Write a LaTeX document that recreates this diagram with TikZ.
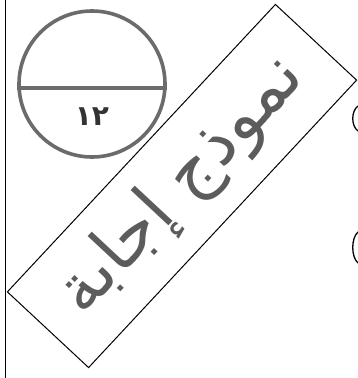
\documentclass[tikz,border=0pt]{standalone}
\usepackage{fontspec}
\newfontfamily\arabicfont[Script=Arabic]{DejaVu Sans}
\TeXXeTstate=1
\usepackage{tikz}
\usetikzlibrary{positioning,calc}
\definecolor{ringgray}{gray}{0.42}
\definecolor{inkgray}{gray}{0.36}

\begin{document}
\begin{tikzpicture}[
    x=1pt,y=-1pt,
    ring/.style={draw=ringgray,line width=3.6pt,circle,minimum size=146pt,inner sep=0pt},
    digits/.style={inner sep=0pt,font=\arabicfont\bfseries\fontsize{28}{28}\selectfont,text=black!80},
    stamp/.style={draw,line width=1pt,minimum width=393pt,minimum height=111pt,inner sep=0pt,
        font=\arabicfont\fontsize{68}{68}\selectfont,text=inkgray},
    edge/.style={line width=1.3pt,line cap=round}
]
\useasboundingbox (0,0) rectangle (357,378);

% margin line
\draw[line width=1pt] (5,0) -- (5,378);

% mark circle
\node[ring] (circ) at (92,84) {};
\draw[ringgray,line width=3.6pt] (circ.183) -- (circ.357);
\node[digits,below=24pt of circ.center] (mark) {١٢};

% stamp
\node[stamp,rotate=47] (stamp) at (182,186) {\beginR نموذج إجابة\endR};

% cut-off brackets at the right edge
\draw[edge] (358,106) .. controls (351,111) and (351,126) .. (358,131);
\draw[edge] (358,232) .. controls (351,238) and (351,257) .. (358,263);
\end{tikzpicture}
\end{document}
